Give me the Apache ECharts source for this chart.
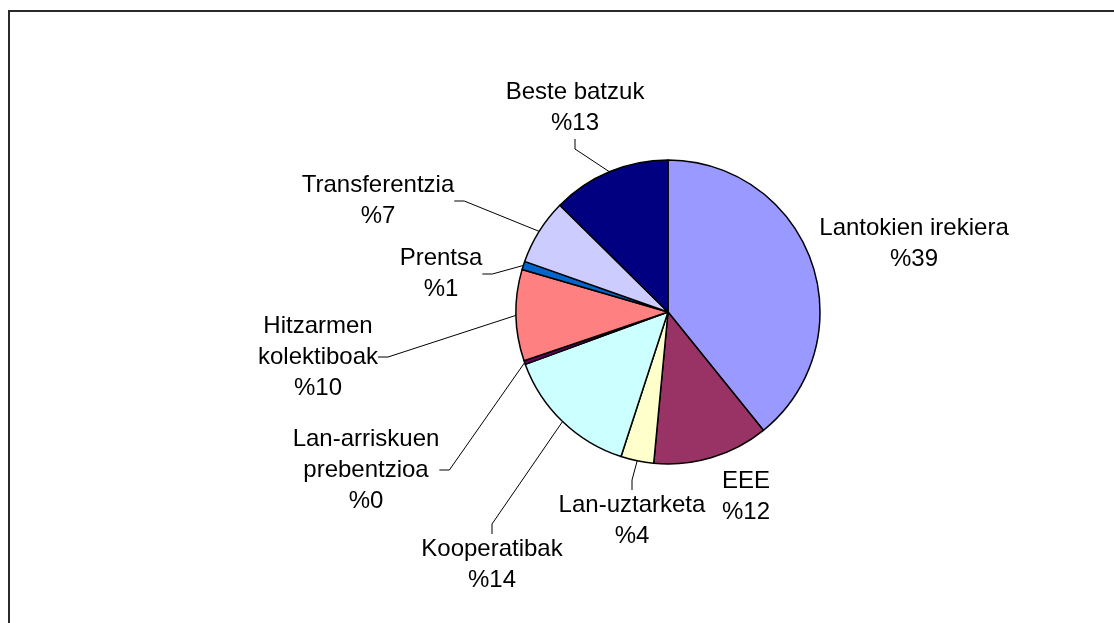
<!DOCTYPE html>
<html>
<head>
<meta charset="utf-8">
<script src="https://cdn.jsdelivr.net/npm/echarts@6/dist/echarts.min.js"></script>
<style>
  html, body { margin: 0; padding: 0; background: #fff; }
  #chart { width: 1114px; height: 623px; }
</style>
</head>
<body>
<div id="chart"></div>
<script>
// datuak (percentages, clockwise from 12 o'clock)
const categories = [
  "Lantokien irekiera",
  "EEE",
  "Lan-uztarketa",
  "Kooperatibak",
  "Lan-arriskuen\nprebentzioa",
  "Hitzarmen\nkolektiboak",
  "Prentsa",
  "Transferentzia",
  "Beste batzuk"
];
const shares = [39.2, 12.3, 3.5, 14.4, 0.4, 9.7, 0.9, 7.0, 12.6];
const colors = ["#9999FF", "#993366", "#FFFFCC", "#CCFFFF", "#660066", "#FF8080", "#0066CC", "#CCCCFF", "#000080"];

// where each label block sits (center of text)
const labelPos = [
  [914, 244], [746, 497], [632, 521], [492, 565], [366, 470],
  [318, 357], [441, 274], [378, 201], [575, 108]
];
const noLeader = [0, 1];

const chart = echarts.init(document.getElementById("chart"));

chart.setOption({
  animation: false,
  graphic: [{
    type: "rect",
    shape: { x: 9, y: 11, width: 1200, height: 700 },
    style: { fill: "none", stroke: "#2a2a2a", lineWidth: 2 }
  }],
  series: [{
    type: "pie",
    center: [668, 312],
    radius: 152,
    startAngle: 90,
    clockwise: true,
    avoidLabelOverlap: false,
    minAngle: 0,
    itemStyle: { borderColor: "#000", borderWidth: 1.5 },
    label: {
      show: true,
      color: "#000",
      fontFamily: "Liberation Sans, Arial, sans-serif",
      fontSize: 24,
      lineHeight: 31,
      align: "center",
      formatter: p => p.name + "\n%" + Math.round(p.value)
    },
    labelLine: {
      show: true,
      length: 10,
      length2: 10,
      lineStyle: { color: "#000", width: 1 }
    },
    labelLayout: p => ({
      x: labelPos[p.dataIndex][0],
      y: labelPos[p.dataIndex][1],
      align: "center",
      verticalAlign: "middle"
    }),
    emphasis: { disabled: true },
    data: categories.map((c, i) => ({
      name: c,
      value: shares[i],
      itemStyle: { color: colors[i] },
      labelLine: { show: noLeader.indexOf(i) < 0 }
    }))
  }]
});
</script>
</body>
</html>
